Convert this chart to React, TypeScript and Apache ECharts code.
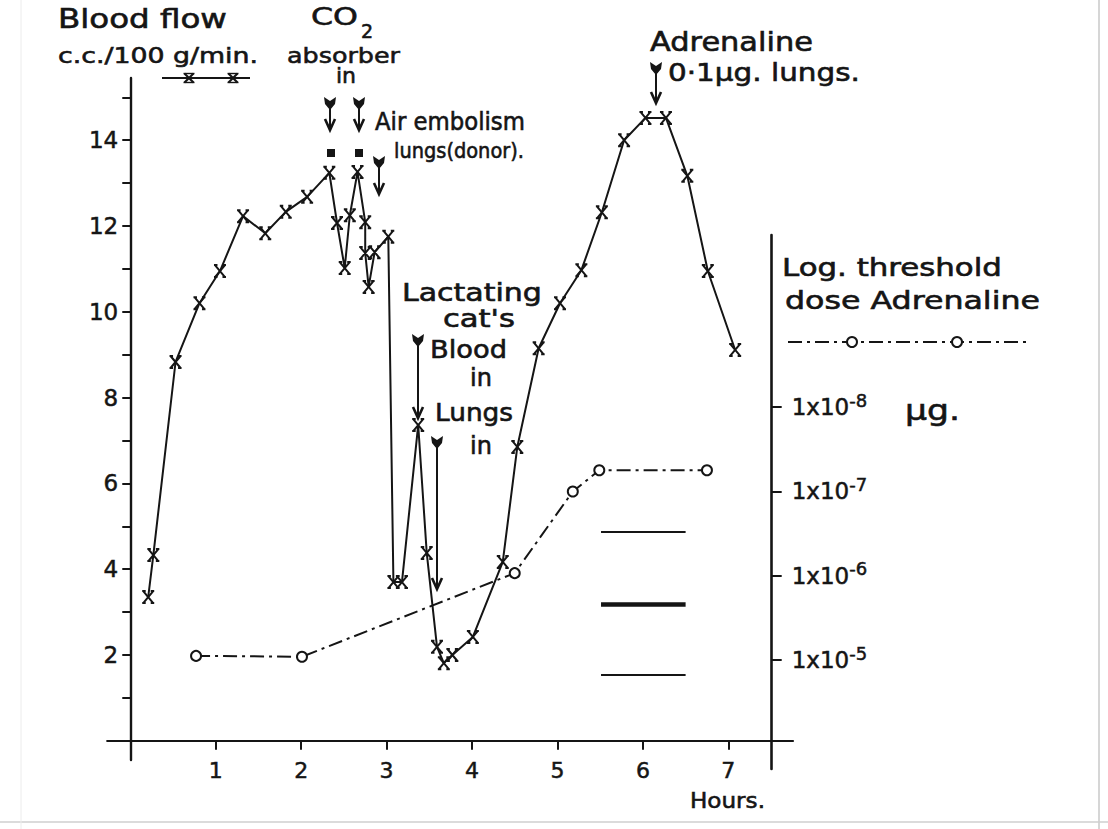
import React, { useEffect, useRef } from "react";
import * as echarts from "echarts";

const FONT = "'DejaVu Sans', 'Liberation Sans', sans-serif";
const RICH_FONT = "DejaVu Sans";
const INK = "#151515";

// Blood flow, c.c./100 g/min, against time in hours
const flowHours = [
  0.21, 0.27, 0.53, 0.81, 1.05, 1.32, 1.58, 1.82, 2.07, 2.33,
  2.42, 2.51, 2.57, 2.66, 2.75, 2.75, 2.79, 2.86, 3.02, 3.08,
  3.18, 3.37, 3.47, 3.59, 3.67, 3.77, 4.01, 4.36, 4.53, 4.78,
  5.03, 5.28, 5.52, 5.78, 6.03, 6.27, 6.52, 6.76, 7.08,
];
const flowValues = [
  3.35, 4.33, 8.83, 10.2, 10.95, 12.23, 11.83, 12.33, 12.68, 13.24,
  12.07, 11.02, 12.25, 13.26, 12.09, 11.37, 10.58, 11.39, 11.75, 3.7,
  3.7, 7.36, 4.38, 2.19, 1.81, 2.0, 2.42, 4.17, 6.85, 9.15,
  10.2, 10.97, 12.32, 14.0, 14.52, 14.52, 13.17, 10.95, 9.11,
];

// Log. threshold dose of adrenaline (µg)
const doseHours = [0.77, 2.01, 4.5, 5.18, 5.49, 6.75];
const thresholdDose = [8.9e-6, 9.1e-6, 9.3e-7, 1.0e-7, 5.6e-8, 5.6e-8];

// Axis ticks
const hourTicks = [1, 2, 3, 4, 5, 6, 7];
const flowTicks = [1, 2, 3, 4, 5, 6, 7, 8, 9, 10, 11, 12, 13, 14, 15];
const flowTickLabels = [2, 4, 6, 8, 10, 12, 14];
const doseTickExponents = [-8, -7, -6, -5];

// Three short horizontal reference bars (left-axis units)
const refBarLevels = [4.87, 3.19, 1.55];
const refBarWidths = [2.2, 4.5, 2.2];
const refBarFrom = 5.51;
const refBarTo = 6.5;

let measureCtx: CanvasRenderingContext2D | null = null;
function measure(text: string, size: number): number {
  if (!measureCtx) measureCtx = document.createElement("canvas").getContext("2d");
  if (!measureCtx) return text.length * size * 0.6;
  measureCtx.font = `${size}px ${FONT}`;
  return measureCtx.measureText(text).width;
}

function label(text: string, x: number, y: number, size: number, width?: number) {
  let sx = 1;
  if (width) {
    const w = measure(text, size);
    sx = Math.min(1.35, Math.max(0.85, width / w));
  }
  return {
    type: "text",
    x,
    y,
    scaleX: sx,
    silent: true,
    style: {
      text,
      x: 0,
      y: 0,
      fontSize: size,
      fontFamily: FONT,
      fill: INK,
      stroke: INK,
      lineWidth: 0.6,
      align: "left",
      verticalAlign: "middle",
      textAlign: "left",
      textVerticalAlign: "middle",
    },
  };
}

function arrow(x: number, top: number, tip: number) {
  return [
    {
      type: "line",
      silent: true,
      shape: { x1: x, y1: top + 6, x2: x, y2: tip - 1 },
      style: { stroke: INK, lineWidth: 2 },
    },
    {
      type: "polyline",
      silent: true,
      shape: { points: [[x - 5, tip - 11], [x, tip], [x + 5, tip - 11]] },
      style: { stroke: INK, lineWidth: 2.6, fill: null },
    },
    {
      type: "polygon",
      silent: true,
      shape: {
        points: [[x - 6, top], [x, top + 4], [x + 6, top], [x + 5, top + 7], [x, top + 13], [x - 5, top + 7]],
      },
      style: { fill: INK },
    },
  ];
}

function xMark(cx: number, cy: number, r: number) {
  const s = { stroke: INK, lineWidth: 2.2 };
  return [
    { type: "line", silent: true, shape: { x1: cx - r, y1: cy - r, x2: cx + r, y2: cy + r }, style: s },
    { type: "line", silent: true, shape: { x1: cx + r, y1: cy - r, x2: cx - r, y2: cy + r }, style: s },
    { type: "line", silent: true, shape: { x1: cx - r - 1, y1: cy - r, x2: cx + r + 1, y2: cy - r }, style: { stroke: INK, lineWidth: 1.4 } },
    { type: "line", silent: true, shape: { x1: cx - r - 1, y1: cy + r, x2: cx + r + 1, y2: cy + r }, style: { stroke: INK, lineWidth: 1.4 } },
  ];
}

const axisText = { fontFamily: FONT, color: INK, textBorderColor: INK, textBorderWidth: 0.5 };

function buildOption() {
  const flowData = flowHours.map((h, i) => [h, flowValues[i]]);
  const doseData = doseHours.map((h, i) => [h, Math.log10(thresholdDose[i])]);

  const graphic: any[] = [
    // scan edges
    { type: "line", silent: true, shape: { x1: 1099, y1: 0, x2: 1099, y2: 829 }, style: { stroke: "#c9c9c9", lineWidth: 1.5 } },
    { type: "line", silent: true, shape: { x1: 0, y1: 822, x2: 1108, y2: 822 }, style: { stroke: "#cfcfcf", lineWidth: 1.5 } },
    { type: "line", silent: true, shape: { x1: 21, y1: 0, x2: 21, y2: 829 }, style: { stroke: "#ececec", lineWidth: 1 } },

    // left title + legend key
    label("Blood flow", 58, 19, 26, 169),
    label("c.c./100 g/min.", 58, 55, 22, 200),
    { type: "line", silent: true, shape: { x1: 162, y1: 78, x2: 250, y2: 78 }, style: { stroke: INK, lineWidth: 2 } },
    ...xMark(189, 78, 4.5),
    ...xMark(233, 78, 4.5),

    // CO2 absorber in
    label("CO", 311, 17, 25, 47),
    label("2", 361, 31, 19),
    label("absorber", 287, 56, 22, 113),
    label("in", 336, 75, 22),
    ...arrow(330, 97, 130),
    ...arrow(359, 97, 130),
    { type: "rect", silent: true, shape: { x: 327, y: 149, width: 8, height: 8 }, style: { fill: INK } },
    { type: "rect", silent: true, shape: { x: 355, y: 149, width: 8, height: 8 }, style: { fill: INK } },

    // Air embolism
    label("Air embolism", 375, 122, 24, 150),
    label("lungs(donor).", 394, 151, 21, 130),
    ...arrow(379, 156, 194),

    // Lactating cat's blood / lungs
    label("Lactating", 402, 293, 24, 140),
    label("cat's", 443, 318, 24, 72),
    label("Blood", 430, 350, 24, 77),
    label("in", 470, 378, 24),
    label("Lungs", 435, 413, 24, 78),
    label("in", 470, 446, 24),
    ...arrow(418, 334, 418),
    ...arrow(437, 436, 589),

    // Adrenaline
    label("Adrenaline", 650, 42, 26, 163),
    label("0·1µg. lungs.", 668, 72, 25, 192),
    ...arrow(656, 62, 103),

    // Right axis title + legend key
    label("Log. threshold", 782, 268, 24, 220),
    label("dose Adrenaline", 785, 301, 24, 255),
    { type: "line", silent: true, shape: { x1: 788, y1: 342, x2: 1030, y2: 342 }, style: { stroke: INK, lineWidth: 2, lineDash: [14, 5, 3, 5] } },
    { type: "circle", silent: true, shape: { cx: 852, cy: 342, r: 5 }, style: { fill: "#fff", stroke: INK, lineWidth: 2 } },
    { type: "circle", silent: true, shape: { cx: 957, cy: 342, r: 5 }, style: { fill: "#fff", stroke: INK, lineWidth: 2 } },
    label("µg.", 905, 410, 28, 55),

    // x-axis name
    label("Hours.", 690, 800, 22, 75),
  ];

  return {
    animation: false,
    backgroundColor: "#ffffff",
    textStyle: { fontFamily: FONT, color: INK },
    grid: [
      { left: 107.2, top: 78, width: 685.8, height: 682.1, outerBoundsMode: "none", containLabel: false },
      { left: 107.2, top: 235, width: 664.5, height: 534, outerBoundsMode: "none", containLabel: false },
    ],
    xAxis: [
      {
        type: "value",
        gridIndex: 0,
        min: -0.27,
        max: 7.757,
        axisLine: { show: true, onZero: true, lineStyle: { color: INK, width: 2.2 } },
        axisTick: { show: true, customValues: hourTicks, length: 9, lineStyle: { color: INK, width: 2 } },
        axisLabel: { show: true, customValues: hourTicks, fontSize: 22, margin: -1, ...axisText },
        splitLine: { show: false },
      },
      {
        type: "value",
        gridIndex: 1,
        min: -0.27,
        max: 7.508,
        show: false,
      },
    ],
    yAxis: [
      {
        type: "value",
        gridIndex: 0,
        min: -0.45,
        max: 15.45,
        axisLine: { show: true, onZero: true, lineStyle: { color: INK, width: 2.4 } },
        axisTick: { show: true, customValues: flowTicks, length: 8, lineStyle: { color: INK, width: 2 } },
        axisLabel: { show: true, customValues: flowTickLabels, fontSize: 23, margin: -11, ...axisText },
        splitLine: { show: false },
      },
      {
        type: "value",
        gridIndex: 1,
        position: "right",
        inverse: true,
        min: -10.04,
        max: -3.71,
        axisLine: { show: true, onZero: false, lineStyle: { color: INK, width: 2.6 } },
        axisTick: { show: true, customValues: doseTickExponents, length: 10, lineStyle: { color: INK, width: 2 } },
        axisLabel: {
          show: true,
          customValues: doseTickExponents,
          margin: 20,
          fontSize: 22,
          fontFamily: RICH_FONT,
          color: INK,
          textBorderColor: INK,
          textBorderWidth: 0.5,
          formatter: (v: number) => `{m|1x10}{s|${v}}`,
          rich: {
            m: { fontSize: 23, fontFamily: RICH_FONT, color: INK, textBorderColor: INK, textBorderWidth: 0.5 },
            s: { fontSize: 18, fontFamily: RICH_FONT, color: INK, textBorderColor: INK, textBorderWidth: 0.5, padding: [0, 0, 14, 0] },
          },
        },
        splitLine: { show: false },
      },
    ],
    series: [
      {
        name: "Blood flow",
        type: "line",
        xAxisIndex: 0,
        yAxisIndex: 0,
        data: flowData,
        symbol: "path://M1,0L11,12M11,0L1,12M0,0L3.5,0M8.5,0L12,0M0,12L3.5,12M8.5,12L12,12",
        symbolSize: 12,
        symbolKeepAspect: true,
        showSymbol: true,
        itemStyle: { color: INK, borderColor: INK, borderWidth: 2 },
        lineStyle: { color: INK, width: 2 },
        z: 3,
        markLine: {
          silent: true,
          symbol: ["none", "none"],
          label: { show: false },
          data: refBarLevels.map((lv, i) => [
            { coord: [refBarFrom, lv], lineStyle: { color: INK, width: refBarWidths[i], type: "solid" } },
            { coord: [refBarTo, lv], lineStyle: { color: INK, width: refBarWidths[i], type: "solid" } },
          ]),
        },
      },
      {
        name: "Log. threshold dose Adrenaline",
        type: "line",
        xAxisIndex: 1,
        yAxisIndex: 1,
        data: doseData,
        symbol: "emptyCircle",
        symbolSize: 10,
        showSymbol: true,
        itemStyle: { color: INK, borderColor: INK, borderWidth: 2 },
        lineStyle: { color: INK, width: 2, type: [14, 5, 3, 5] },
        z: 2,
      },
    ],
    graphic,
  };
}

export default function App() {
  const ref = useRef<HTMLDivElement>(null);
  useEffect(() => {
    if (!ref.current) return;
    const chart = echarts.init(ref.current, null, { renderer: "svg" });
    chart.setOption(buildOption() as any);
    return () => chart.dispose();
  }, []);
  return (
    <div
      ref={ref}
      style={{ position: "fixed", left: 0, top: 0, width: 1108, height: 829, background: "#fff" }}
    />
  );
}
